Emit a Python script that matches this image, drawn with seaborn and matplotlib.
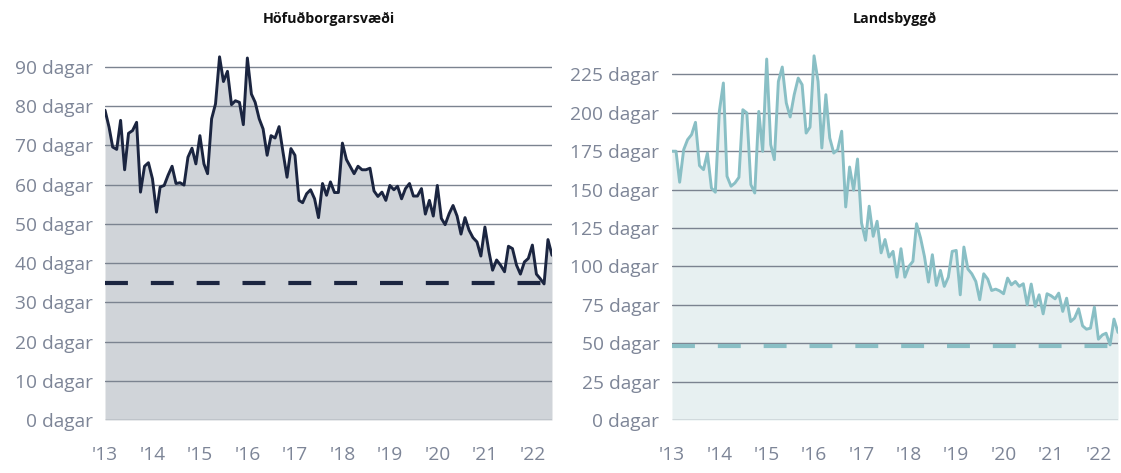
import numpy as np
import pandas as pd
import matplotlib
matplotlib.use('Agg')
import matplotlib.pyplot as plt
import seaborn as sns

# Meðalsölutími íbúða (dagar), mánaðarleg gögn jan 2013 - jún 2022
hofudborg = [79, 74.7, 69.6, 69, 76.4, 63.8, 73.1, 73.8, 75.9, 58.1, 64.7, 65.6,
             61.5, 53, 59.4, 59.8, 62.4, 64.7, 60.3, 60.5, 59.9, 67, 69.3, 65.3,
             72.5, 65.3, 62.8, 76.8, 80.6, 92.6, 86.3, 88.9, 80.4, 81.4, 81, 75.3,
             92.3, 83.1, 81, 76.8, 74.2, 67.5, 72.5, 71.9, 74.8, 68.3, 61.9, 69.2,
             67.5, 56, 55.4, 57.7, 58.7, 56.4, 51.6, 60.3, 57.3, 60.7,
             58, 58, 70.6, 66.4, 64.7, 62.8, 64.7, 63.8, 63.8, 64.2, 58.4, 57,
             58.1, 56, 59.8, 58.7, 59.6, 56.4, 59, 60.3, 57.1, 57.1, 59, 52.5,
             56, 52, 59.8, 51.4, 49.8, 52.6, 54.7, 52, 47.4, 51.6, 48.4, 46.5,
             45.4, 41.8, 49.2, 42.9, 38.2, 40.8, 39.5, 37.8, 44.3, 43.7, 39.5, 37.2,
             40.3, 41.2, 44.6, 37.2, 36.1, 34.7, 46, 42]

landsbyggd = [175, 175, 154.8, 176, 182.5, 185.8, 193.8, 165.6, 163, 173.8, 151, 148.3,
              201, 219.4, 158.7, 152.2, 154.3, 158, 202, 199.9, 153.2, 147.8, 200.9, 174.9,
              235, 179.3, 169.5, 220.4, 229.8, 206.4, 197.3, 211.8, 222.6, 218.3, 186.8, 190.7,
              237.1, 220.4, 177.1, 211.8, 183.6, 173.8, 176, 188, 138.7, 164.7, 149.6, 169.9,
              128.3, 117, 139.2, 119.6, 129.4, 108.8, 117.5, 106.1, 109.8, 93, 111.5, 93,
              100, 103.3, 127.8, 118.5, 106.5, 89.8, 107.6, 87.6, 97.4, 87, 93, 109.8,
              110.4, 81.5, 112.6, 98.3, 95.2, 90.2, 78.3, 95.2, 91.7, 84.3, 85.2, 84.1,
              82.2, 92.4, 88, 90.2, 87, 88.7, 75, 88.5, 73.9, 81.5, 69.1, 82.2,
              80.9, 78.9, 82.6, 70.7, 79.3, 64.1, 66.3, 72.4, 61.3, 59.1, 59.8, 73.5,
              52.6, 55.4, 56.5, 48.9, 65.7, 57]

vidmid_hofudborg = 35
vidmid_landsbyggd = 48.5

titlar = ['Höfuðborgarsvæði', 'Landsbyggð']
ar_merki = ["'13", "'14", "'15", "'16", "'17", "'18", "'19", "'20", "'21", "'22"]
y_tick_vinstri = list(range(0, 91, 10))
y_tick_haegri = list(range(0, 226, 25))

dags = pd.date_range('2013-01-01', periods=len(hofudborg), freq='MS')
df = pd.DataFrame({'dags': dags, 'hofudborg': hofudborg, 'landsbyggd': landsbyggd})

sns.set_theme(style='white')
plt.rcParams['font.family'] = ['Open Sans', 'DejaVu Sans']

grar_texti = '#7d8597'
grid_litur = '#7b8390'

fig = plt.figure(figsize=(11.21, 4.73), dpi=100)
ax1 = fig.add_axes([105 / 1121, 53 / 473, 447 / 1121, 380 / 473])
ax2 = fig.add_axes([672 / 1121, 53 / 473, 446 / 1121, 380 / 473])

stillingar = [
    (ax1, 'hofudborg', '#1b2540', '#d0d4d9', vidmid_hofudborg, y_tick_vinstri, 380 / 3.922),
    (ax2, 'landsbyggd', '#89bfc5', '#e7f0f1', vidmid_landsbyggd, y_tick_haegri, 380 / 1.536),
]

for (ax, col, litur, fylling, vidmid, yticks, ytop), titill in zip(stillingar, titlar):
    ax.fill_between(df['dags'], 0, df[col], color=fylling, lw=0, zorder=1)
    for t in yticks:
        ax.axhline(t, color=grid_litur, lw=1.0, zorder=1.5)
    sns.lineplot(data=df, x='dags', y=col, ax=ax, color=litur, lw=2.1, zorder=3)
    ax.axhline(vidmid, color=litur, lw=3.0, dashes=(5.5, 5.5), zorder=2.5)

    ax.set_xlim(df['dags'].iloc[0], df['dags'].iloc[-1])
    ax.set_ylim(0, ytop)
    ax.set_yticks(yticks)
    ax.set_yticklabels([f'{t} dagar' for t in yticks])
    jan = pd.date_range('2013-01-01', periods=len(ar_merki), freq='YS')
    ax.set_xticks(jan)
    ax.set_xticklabels(ar_merki)
    ax.tick_params(axis='x', length=0, pad=19, labelsize=13.8, labelcolor=grar_texti)
    ax.tick_params(axis='y', length=0, pad=9, labelsize=13.8, labelcolor=grar_texti)
    ax.set_xlabel('')
    ax.set_ylabel('')
    for s in ax.spines.values():
        s.set_visible(False)

    pos = ax.get_position()
    fig.text((pos.x0 + pos.x1) / 2, 1 - 19 / 473, titill, ha='center', va='center',
             fontsize=10.3, fontweight='bold', color='#111111')

fig.savefig('out.png', dpi=100)
